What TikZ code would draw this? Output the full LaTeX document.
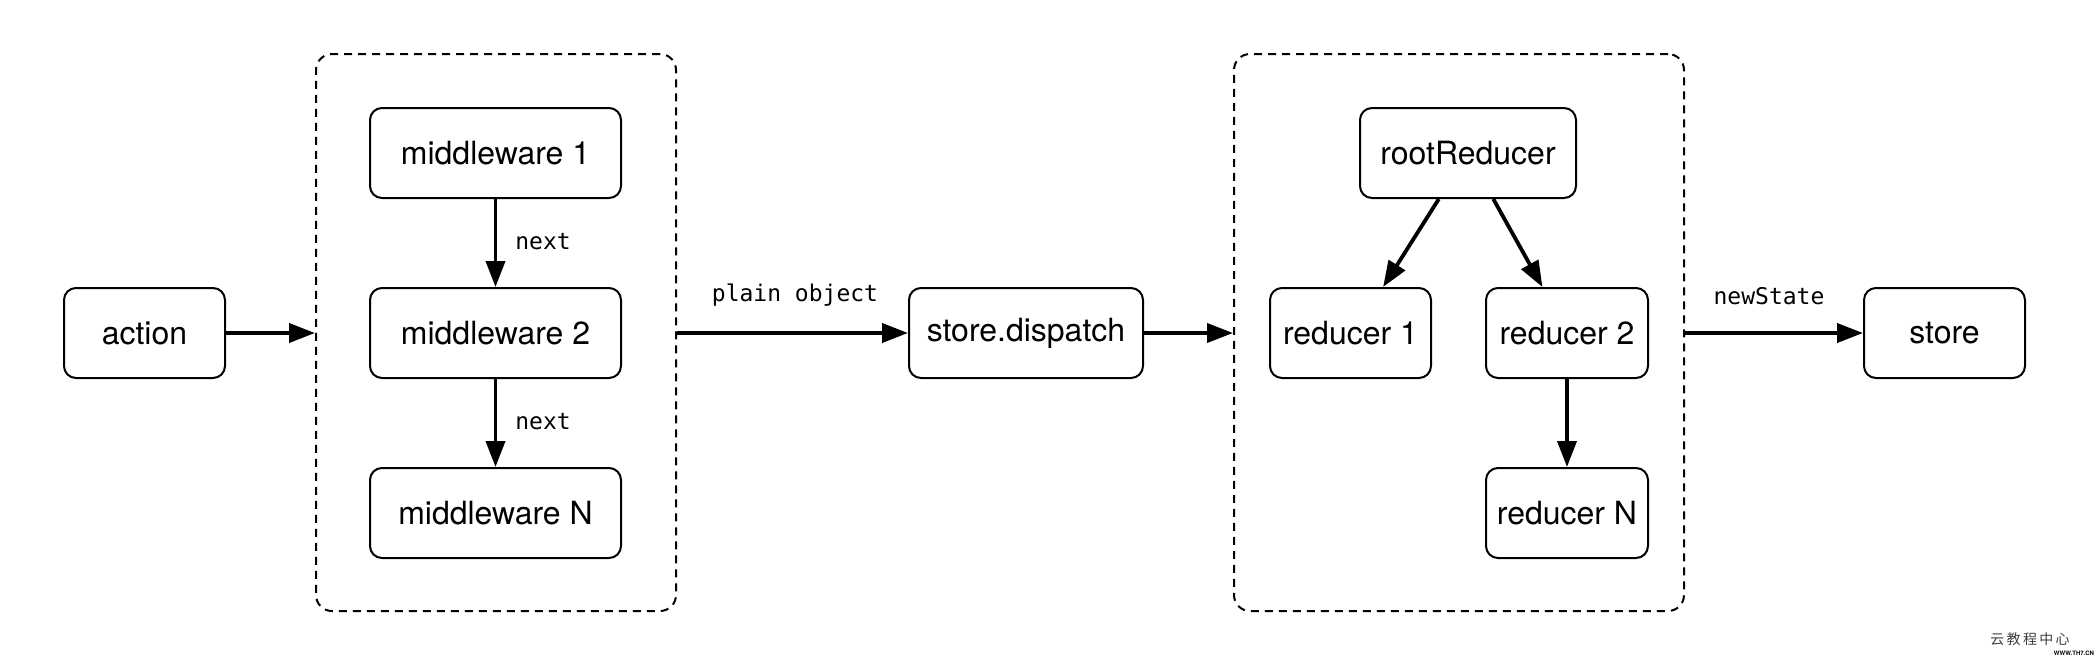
\documentclass[tikz,border=0pt]{standalone}
\usepackage{fontspec}
\setmainfont{TeX Gyre Heros}
\newfontfamily\monofont{DejaVu Sans Mono}
\newfontfamily\cjk{Noto Sans CJK SC}
\usetikzlibrary{arrows.meta,calc}
\begin{document}
\begin{tikzpicture}[x=0.5pt,y=-0.5pt,
  box/.style={draw,line width=1pt,rounded corners=6pt,minimum height=45pt,
    inner sep=0pt,font=\fontsize{16}{19}\selectfont},
  group/.style={draw,line width=1pt,dash pattern=on 4pt off 3pt,rounded corners=8pt,inner sep=0pt},
  arr/.style={line width=1.9pt,-{Triangle[length=13pt,width=9.5pt]}},
  lbl/.style={font=\monofont\fontsize{11.5}{13}\selectfont,inner sep=0pt}]
\path[use as bounding box,fill=white] (0,0) rectangle (2100,660);
% groups
\node[group,minimum width=180pt,minimum height=278.5pt] (g1) at (496,332.5) {};
\node[group,minimum width=225pt,minimum height=278.5pt] (g2) at (1459,332.5) {};
% boxes
\node[box,minimum width=80.5pt] (action) at (144.5,333) {action};
\node[box,minimum width=125.5pt] (mw1) at (495.5,153) {middleware 1};
\node[box,minimum width=125.5pt] (mw2) at (495.5,333) {middleware 2};
\node[box,minimum width=125.5pt] (mwN) at (495.5,513) {middleware N};
\node[box,minimum width=117pt] (dispatch) at (1026,333) {store.dispatch};
\node[box,minimum width=108pt] (root) at (1468,153) {rootReducer};
\node[box,minimum width=80.5pt] (r1) at (1350.5,333) {reducer 1};
\node[box,minimum width=81pt] (r2) at (1567,333) {reducer 2};
\node[box,minimum width=81pt] (rN) at (1567,513) {reducer N};
\node[box,minimum width=80.5pt] (store) at (1944.5,333) {store};
% labels
\node[lbl] (next1) at (543,242) {next};
\node[lbl] (next2) at (543,422) {next};
\node[lbl] (plain) at (795,295) {plain object};
\node[lbl] (newstate) at (1769,296) {newState};
% connectors
\draw[arr] (action.east) -- (action.east -| g1.west);
\draw[arr] (mw1.south) -- (mw2.north);
\draw[arr] (mw2.south) -- (mwN.north);
\draw[arr] (dispatch.west -| g1.east) -- (dispatch.west);
\draw[arr] (dispatch.east) -- (dispatch.east -| g2.west);
\draw[arr] ($(root.south west)!0.366!(root.south east)$) -- ($(r1.north west)!0.70!(r1.north east)$);
\draw[arr] ($(root.south west)!0.616!(root.south east)$) -- ($(r2.north west)!0.35!(r2.north east)$);
\draw[arr] (r2.south) -- (rN.north);
\draw[arr] (store.west -| g2.east) -- (store.west);
% watermark
\node[font=\cjk\fontsize{7}{8}\selectfont,text=black!75,inner sep=0pt] (wm1) at (2030,639) {云\,教\,程\,中\,心};
\node[font=\bfseries\fontsize{3}{4}\selectfont,inner sep=0pt] (wm2) at (2074,653) {WWW.TH7.CN};
\end{tikzpicture}
\end{document}
